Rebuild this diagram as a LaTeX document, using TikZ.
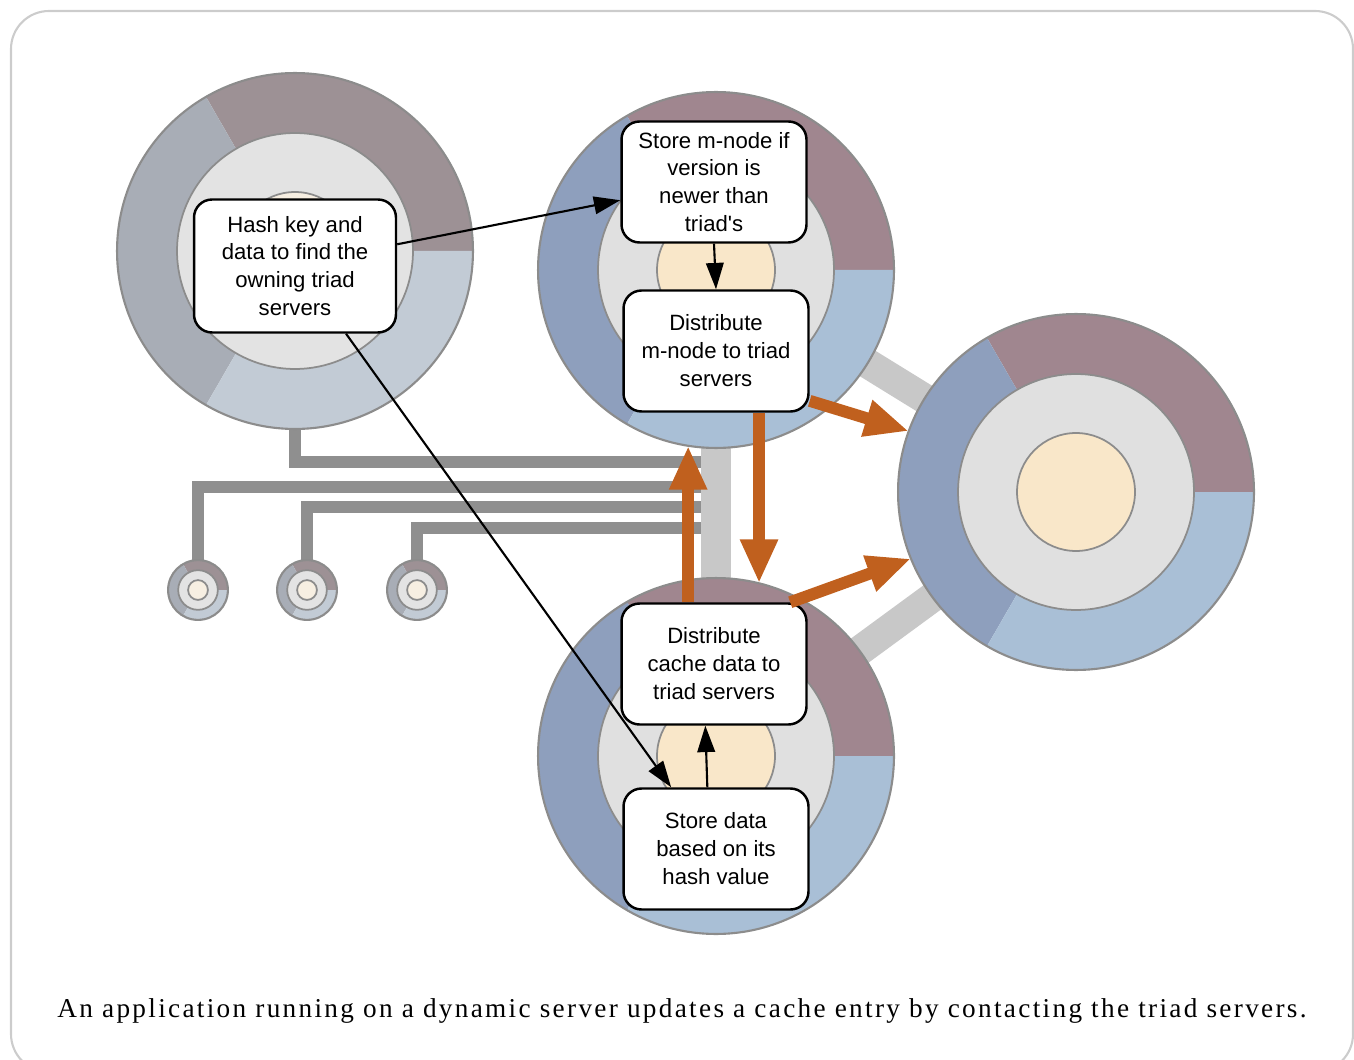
\documentclass[tikz,border=0pt]{standalone}
\usepackage{fontspec}
\usepackage{xcolor}
\usepackage{tikz}
\usetikzlibrary{arrows.meta}
\newfontfamily\boxfont{Liberation Sans}
\newfontfamily\capfont{Liberation Serif}[LetterSpace=8.5]

\definecolor{mauveV}{HTML}{A0868F}
\definecolor{darkV}{HTML}{8E9FBD}
\definecolor{lightV}{HTML}{A9BFD6}
\definecolor{ringV}{HTML}{E0E0E0}
\definecolor{coreV}{HTML}{F9E7C9}
\definecolor{mauveD}{HTML}{9D9195}
\definecolor{darkD}{HTML}{A8ADB6}
\definecolor{lightD}{HTML}{C2CBD5}
\definecolor{ringD}{HTML}{E3E3E3}
\definecolor{coreD}{HTML}{F7EFE2}
\definecolor{rim}{HTML}{8C8C8C}
\definecolor{wiregray}{HTML}{8F8F8F}
\definecolor{linkgray}{HTML}{C8C8C8}
\definecolor{flowor}{HTML}{C0601E}

\begin{document}
\begin{tikzpicture}[x=0.02cm, y=-0.02cm,
    stepbox/.style={draw, line width=1.4pt, rounded corners=0.36cm, fill=white, align=center,
        font=\boxfont\fontsize{12.6}{15.9}\selectfont, minimum width=3.7cm, minimum height=2.42cm, inner sep=0pt},
    wire/.style={draw=wiregray, line width=6.3pt},
    link/.style={draw=linkgray, line width=17pt},
    flow/.style={draw=flowor, line width=6.8pt, -{Triangle[length=25pt,width=20pt]}},
    note/.style={line width=1.2pt, -{Triangle[length=15pt,width=10pt]}}]

    \useasboundingbox (0,0) rectangle (1354,1060);
    \draw[black!20, line width=1.2pt, rounded corners=0.76cm] (11,11) rectangle (1353,1072);

    % servers
    \foreach \n/\x/\y/\s in {app/295/251/1, top/716/270/1, right/1076/492/1, bot/716/756/1,
                             dyn1/198/590/0.168, dyn2/307/590/0.168, dyn3/417/590/0.168}
        \node[circle, inner sep=0pt, outer sep=0pt, minimum size=\s*7.12cm] (\n) at (\x,\y) {};

    \coordinate (bus1) at (710,462);
    \coordinate (bus2) at (710,487);
    \coordinate (bus3) at (710,507);
    \coordinate (bus4) at (710,528);

    \foreach \a/\b in {app/bus1, dyn1/bus2, dyn2/bus3, dyn3/bus4}
        \draw[wire] (\a) |- (\b);

    \draw[link] (top) -- (bot);
    \draw[link] (top) -- (right);
    \draw[link] (bot) -- (right);

    \foreach \n/\s/\p in {app/1/D, top/1/V, right/1/V, bot/1/V, dyn1/0.168/D, dyn2/0.168/D, dyn3/0.168/D} {
        \pgfmathsetmacro\R{\s*3.56}
        \pgfmathsetmacro\r{\s*2.36}
        \pgfmathsetmacro\c{\s*1.18}
        \fill[mauve\p] (\n.center) -- ++(0:\R cm) arc[start angle=0, end angle=120, radius=\R cm] -- cycle;
        \fill[dark\p] (\n.center) -- ++(120:\R cm) arc[start angle=120, end angle=240, radius=\R cm] -- cycle;
        \fill[light\p] (\n.center) -- ++(240:\R cm) arc[start angle=240, end angle=360, radius=\R cm] -- cycle;
        \draw[rim, line width=1.2pt] (\n.center) circle[radius=\R cm];
        \filldraw[fill=ring\p, draw=rim, line width=1pt] (\n.center) circle[radius=\r cm];
        \filldraw[fill=core\p, draw=rim, line width=1pt] (\n.center) circle[radius=\c cm];
    }

    % steps
    \node[stepbox, minimum width=4.04cm, minimum height=2.66cm] (hash) at (295,266)
        {Hash key and\\data to find the\\owning triad\\servers};
    \node[stepbox] (sm) at (714,182) {Store m-node if\\version is\\newer than\\triad\textquotesingle s};
    \node[stepbox] (dm) at (716,351) {Distribute\\m-node to triad\\servers};
    \node[stepbox] (dc) at (714,664) {Distribute\\cache data to\\triad servers};
    \node[stepbox] (sd) at (716,849) {Store data\\based on its\\hash value};

    \draw[flow] (dm.-28) -- (right.160);
    \draw[flow] (dm.south -| bot.76) -- (bot.76);
    \draw[flow] (dc.north -| top.261) -- (top.261);
    \draw[flow] (dc.39) -- (right.202);

    \draw[note] (hash.12) -- (sm.191);
    \draw[note] (hash.-53) -- (sd.126);
    \draw[note] (sm.south) -- (dm.north);
    \draw[note] (sd.98) -- (dc.262);

    \node[anchor=base, inner sep=0pt, font=\capfont\fontsize{15.5}{18}\selectfont] (caption) at (682,1017)
        {An application running on a dynamic server updates a cache entry by contacting the triad servers.};

\end{tikzpicture}
\end{document}
